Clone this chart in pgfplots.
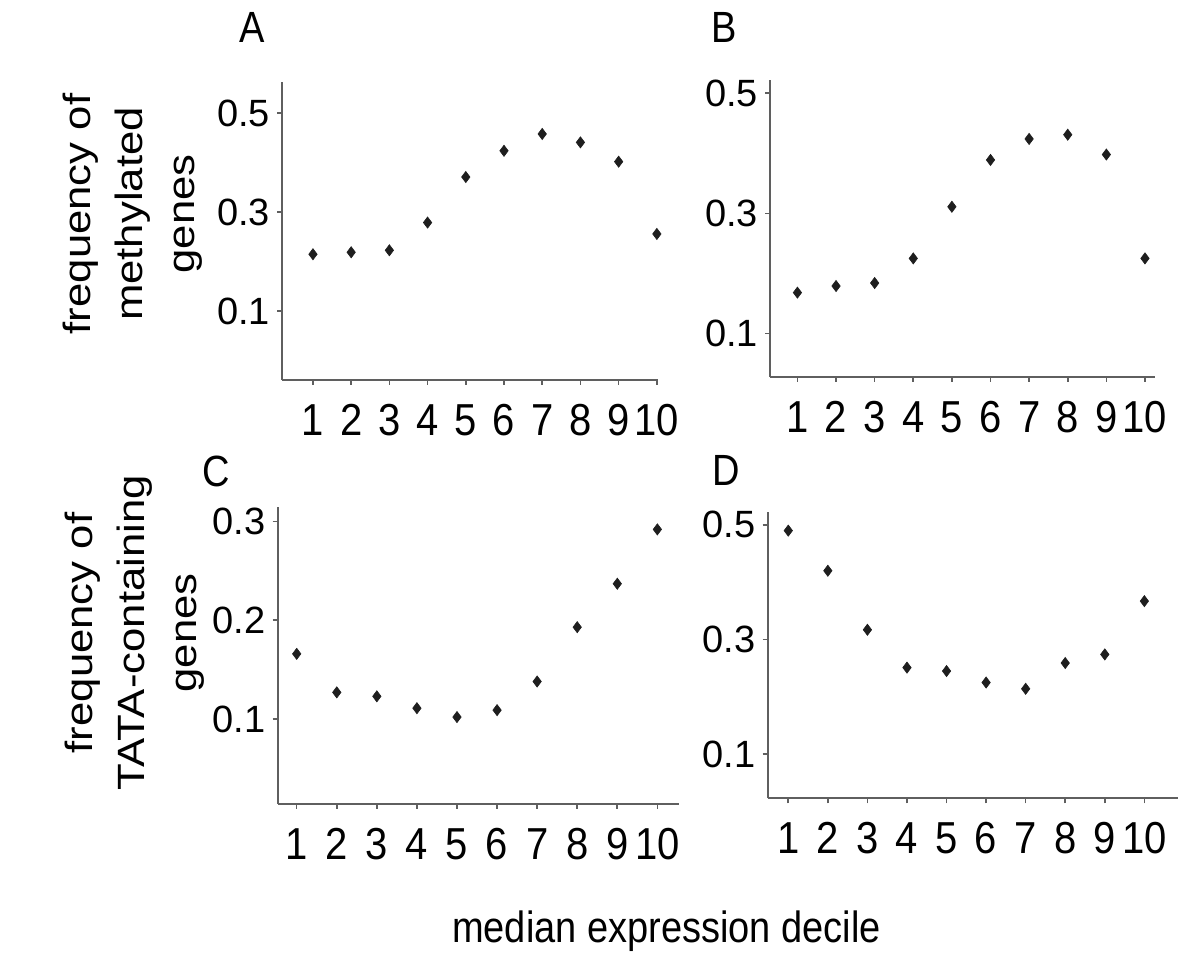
\documentclass[border=0pt]{standalone}
\usepackage{fontspec}
\setmainfont{Liberation Sans}
\usepackage{graphicx}
\usepackage{pgfplots}
\pgfplotsset{compat=1.18}
\newcommand\vst[1]{\scalebox{1}[1.15]{#1}}
\newcommand\hst[1]{\scalebox{1.15}[1]{#1}}
\definecolor{axisgray}{RGB}{95,95,95}
\definecolor{markgray}{RGB}{30,30,30}
\pgfplotsset{
  panel/.style={
    scale only axis,
    anchor=south west,
    axis lines*=left,
    axis line style={axisgray,line width=1pt},
    tick style={axisgray,line width=0.8pt},
    major tick length=2.5pt,
    tick align=outside,
    xtick={1,...,10},
    /pgf/number format/assume math mode=true,
    xticklabel={\scalebox{1}[1.12]{\vphantom{0123456789}\pgfmathprintnumber{\tick}}},
    yticklabel style={/pgf/number format/.cd,fixed,precision=1,fixed zerofill},
    ticklabel style={font=\fontsize{19}{19}\selectfont},
    xticklabel style={font=\fontsize{20}{20}\selectfont, yshift=-6pt},
    clip=false,
  },
  dots/.style={only marks, mark=diamond*, mark size=2.8pt,
    mark options={draw=markgray,fill=markgray,line width=0.3pt}},
}
\begin{document}
\begin{tikzpicture}
\path[use as bounding box] (0,0) rectangle (600pt,483.5pt);

% A
\begin{axis}[panel, at={(141pt,293.5pt)}, width=188pt, height=149pt,
  xmin=0.19, xmax=10.03, ymin=-0.039, ymax=0.563, ytick={0.1,0.3,0.5}]
\addplot[dots] coordinates {(1,0.215) (2,0.219) (3,0.223) (4,0.279) (5,0.371)
  (6,0.424) (7,0.458) (8,0.441) (9,0.402) (10,0.256)};
\end{axis}

% B
\begin{axis}[panel, at={(385pt,295.15pt)}, width=192.5pt, height=148.3pt,
  xmin=0.29, xmax=10.26, ymin=0.028, ymax=0.522, ytick={0.1,0.3,0.5}]
\addplot[dots] coordinates {(1,0.168) (2,0.179) (3,0.184) (4,0.225) (5,0.311)
  (6,0.389) (7,0.424) (8,0.431) (9,0.398) (10,0.225)};
\end{axis}

% C
\begin{axis}[panel, at={(138.85pt,81.5pt)}, width=200.65pt, height=148.65pt,
  xmin=0.526, xmax=10.54, ymin=0.014, ymax=0.315, ytick={0.1,0.2,0.3}]
\addplot[dots] coordinates {(1,0.166) (2,0.127) (3,0.123) (4,0.111) (5,0.102)
  (6,0.109) (7,0.138) (8,0.193) (9,0.237) (10,0.292)};
\end{axis}

% D
\begin{axis}[panel, at={(383.85pt,84.35pt)}, width=205.15pt, height=143.3pt,
  xmin=0.48, xmax=10.85, ymin=0.023, ymax=0.523, ytick={0.1,0.3,0.5}]
\addplot[dots] coordinates {(1,0.490) (2,0.420) (3,0.317) (4,0.251) (5,0.245)
  (6,0.225) (7,0.214) (8,0.259) (9,0.274) (10,0.367)};
\end{axis}

% panel letters and shared labels
\begin{scope}[every node/.style={font=\fontsize{19}{19}\selectfont, inner sep=0pt}]
\node at (126pt,469.75pt) {\vst{A}};
\node at (362pt,469.75pt) {\vst{B}};
\node at (108pt,248pt) {\vst{C}};
\node at (363pt,248.5pt) {\vst{D}};
\node[anchor=base] at (333.25pt,12pt) {\vst{median expression decile}};
\end{scope}
\node[rotate=90, align=center, inner sep=0pt, font=\fontsize{19}{26}\selectfont]
  at (66.5pt,376.5pt) {\hst{frequency of}\\\hst{methylated}\\\hst{genes}};
\node[rotate=90, align=center, inner sep=0pt, font=\fontsize{19}{26}\selectfont]
  at (67.5pt,167pt) {\hst{frequency of}\\\hst{TATA-containing}\\\hst{genes}};
\end{tikzpicture}
\end{document}
